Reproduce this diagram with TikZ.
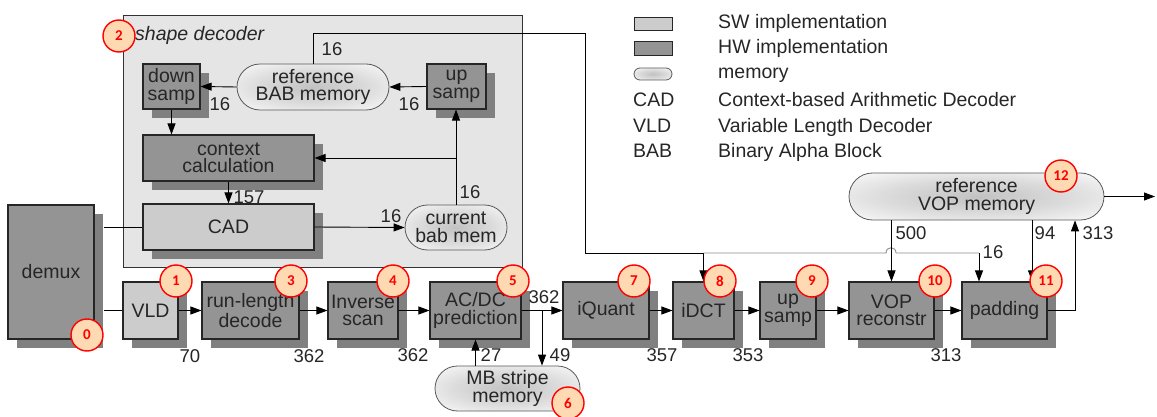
\documentclass[tikz,border=0pt]{standalone}
\usepackage{fontspec}
\setmainfont{Liberation Sans}
\newfontfamily\numfont{Carlito}
\usetikzlibrary{arrows.meta,shapes.misc,shadows,calc}
\pgfdeclareradialshading{memshade}{\pgfpoint{0bp}{0bp}}{color(0bp)=(black!24); color(18bp)=(black!14); color(34bp)=(black!3); color(50bp)=(white)}

\begin{document}
\begin{tikzpicture}[
        x=1pt, y=-1pt,
        font=\fontsize{19.5}{17.5}\selectfont, text=black!85,
        hw/.style={rectangle, draw=black!85, line width=1.1pt, fill=black!42, align=center, inner sep=0pt,
            drop shadow={shadow xshift=9pt, shadow yshift=-9pt, fill=black!50, opacity=1}},
        sw/.style={hw, fill=black!20},
        mem/.style={rounded rectangle, draw=black!65, line width=0.8pt, shade, shading=memshade, align=center, inner sep=0pt},
        marco/.style={rectangle, draw=black!80, line width=1pt, fill=black!10, inner sep=0pt},
        legbox/.style={rectangle, draw=black!85, line width=1pt, minimum width=38, minimum height=13.5, inner sep=0pt},
        legtxt/.style={anchor=base west, inner sep=0pt},
        num/.style={circle, draw=red, line width=1.4pt, fill=orange!30, text=red, minimum size=32pt, inner sep=0pt, font=\numfont\bfseries\fontsize{15}{15}\selectfont},
        lbl/.style={inner sep=0pt, font=\fontsize{18.5}{18.5}\selectfont},
        flecha/.style={-{Triangle[length=11pt,width=8pt]}, line width=0.9pt},
        linea/.style={line width=0.9pt}
    ]
        \useasboundingbox (0,0) rectangle (1157,417);

        % shape decoder
        \node[marco, minimum width=399, minimum height=251] (sd) at (322.5,141.5) {};
        \node[legtxt, font=\itshape\fontsize{19.5}{19.5}\selectfont] (sdname) at (135,41) {shape decoder};
        \node[hw, minimum width=57, minimum height=45] (dsamp) at (171.5,86.5) {down\\samp};
        \node[mem, minimum width=152, minimum height=46] (refbab) at (313,87) {reference\\BAB memory};
        \node[hw, minimum width=59, minimum height=45] (usampa) at (456.5,86.5) {up\\samp};
        \node[hw, minimum width=171, minimum height=46] (ctx) at (228.5,158) {context\\calculation};
        \node[sw, minimum width=171, minimum height=46] (cad) at (228.5,227) {CAD};
        \node[mem, minimum width=102, minimum height=45] (curbab) at (456,227.5) {current\\bab mem};

        % texture path
        \node[hw, minimum width=86, minimum height=134] (demux) at (51,272) {demux};
        \node[sw, minimum width=55, minimum height=57] (vld) at (150.5,310.5) {VLD};
        \node[hw, minimum width=97, minimum height=57] (rld) at (250.5,310.5) {run-length\\decode};
        \node[hw, minimum width=70, minimum height=57] (iscan) at (363,310.5) {Inverse\\scan};
        \node[hw, minimum width=91, minimum height=57] (acdc) at (475.5,310.5) {AC/DC\\prediction};
        \node[mem, minimum width=145, minimum height=45] (mbs) at (507.5,388.5) {MB stripe\\memory};
        \node[hw, minimum width=86, minimum height=57] (iq) at (606,310.5) {iQuant};
        \node[hw, minimum width=61, minimum height=57] (idct) at (703.5,310.5) {iDCT};
        \node[hw, minimum width=56, minimum height=57] (usampb) at (788,310.5) {up\\samp};
        \node[hw, minimum width=85, minimum height=57] (vop) at (891.5,310.5) {VOP\\reconstr};
        \node[hw, minimum width=85, minimum height=57] (pad) at (1004.5,310.5) {padding};
        \node[mem, minimum width=255, minimum height=47] (refvop) at (976.5,196.5) {reference\\VOP memory};

        % legend
        \node[legbox, fill=black!20] (legsw) at (653,24) {};
        \node[legbox, fill=black!42] (leghw) at (653,48.5) {};
        \node[mem, minimum width=38, minimum height=12] (legmem) at (653,74) {};
        \node[legtxt] (tsw) at (718,28.5) {SW implementation};
        \node[legtxt] (thw) at (718,53.5) {HW implementation};
        \node[legtxt] (tmem) at (718,78.5) {memory};
        \node[legtxt] (acad) at (633,106.5) {CAD};
        \node[legtxt] (tcad) at (718,106.5) {Context-based Arithmetic Decoder};
        \node[legtxt] (avld) at (633,132.5) {VLD};
        \node[legtxt] (tvld) at (718,132.5) {Variable Length Decoder};
        \node[legtxt] (abab) at (633,158) {BAB};
        \node[legtxt] (tbab) at (718,158) {Binary Alpha Block};

        \coordinate (dxe) at ([xshift=9pt]demux.east);
        \coordinate (tr) at (585,33);
        \coordinate (jn) at (703.5,253);
        \coordinate (pj) at (979,253);
        \coordinate (br) at ($(acdc.east)!0.5!(iq.west)$);
        \coordinate (pin) at ($(pad.north west)!0.82!(pad.north east)$);
        \coordinate (ret) at ($(refvop.south)+(98.5,0)$);
        \coordinate (out) at (1155,196.5);

        % shape decoder links
        \draw[flecha] (refbab.west) -- (dsamp.east);
        \draw[flecha] (usampa.west) -- (refbab.east);
        \draw[flecha] (dsamp.south) -- (dsamp.south |- ctx.north);
        \draw[flecha] (ctx.south) -- (cad.north);
        \draw[flecha] (curbab.north) -- (curbab.north |- usampa.south);
        \draw[flecha] (curbab.north |- ctx.east) -- (ctx.east);
        \draw[linea] (dxe |- cad.west) -- (cad.west);
        \draw[flecha] (cad.east) -- (curbab.west);
        \draw[flecha] (refbab.north) |- (tr) |- (jn) -- (idct.north);
        \draw[linea, black!45] (jn) -- (886,253) .. controls (886,246) and (896,246) .. (896,253) -- (pj);
        \draw[flecha] (pj) -- (pj |- pad.north);

        % main chain
        \draw[linea] (dxe |- vld.west) -- (vld.west);
        \draw[flecha] (vld) -- (rld);
        \draw[flecha] (rld) -- (iscan);
        \draw[flecha] (iscan) -- (acdc);
        \draw[flecha] (acdc) -- (iq);
        \draw[flecha] (br) -- (br |- mbs.north);
        \draw[flecha] (acdc.south |- mbs.north) -- (acdc.south);
        \draw[flecha] (iq) -- (idct);
        \draw[flecha] (idct) -- (usampb);
        \draw[flecha] (usampb) -- (vop);
        \draw[flecha] (vop) -- (pad);
        \draw[flecha] (refvop.south -| vop.north) -- (vop.north);
        \draw[flecha] (refvop.south -| pin) -- (pin);
        \draw[flecha] (pad.east) -| (ret);
        \draw[flecha] (refvop.east) -- (out);

        % bit widths
        \node[lbl] (w1) at (220,104) {16};
        \node[lbl] (w2) at (409,104) {16};
        \node[lbl] (w3) at (332,49) {16};
        \node[lbl] (w4) at (249,197) {157};
        \node[lbl] (w5) at (470,192) {16};
        \node[lbl] (w6) at (391,216) {16};
        \node[lbl] (w7) at (190,356) {70};
        \node[lbl] (w8) at (309,356) {362};
        \node[lbl] (w9) at (413,355) {362};
        \node[lbl] (w10) at (491,355) {27};
        \node[lbl] (w11) at (560,355) {49};
        \node[lbl] (w12) at (544,297) {362};
        \node[lbl] (w13) at (662,355) {357};
        \node[lbl] (w14) at (748,355) {353};
        \node[lbl] (w15) at (946,355) {313};
        \node[lbl] (w16) at (911,233) {500};
        \node[lbl] (w17) at (993,252) {16};
        \node[lbl] (w18) at (1045,233) {94};
        \node[lbl] (w19) at (1098,233) {313};

        % block numbers
        \node[num] (c0) at (87,335) {0};
        \node[num] (c1) at (176,281) {1};
        \node[num] (c2) at (119,36) {2};
        \node[num] (c3) at (291,281) {3};
        \node[num] (c4) at (393,281) {4};
        \node[num] (c5) at (513,281) {5};
        \node[num] (c6) at (568,403) {6};
        \node[num] (c7) at (634,281) {7};
        \node[num] (c8) at (720,281) {8};
        \node[num] (c9) at (812,281) {9};
        \node[num] (c10) at (935,281) {10};
        \node[num] (c11) at (1046,281) {11};
        \node[num] (c12) at (1061,176) {12};
    \end{tikzpicture}
\end{document}
